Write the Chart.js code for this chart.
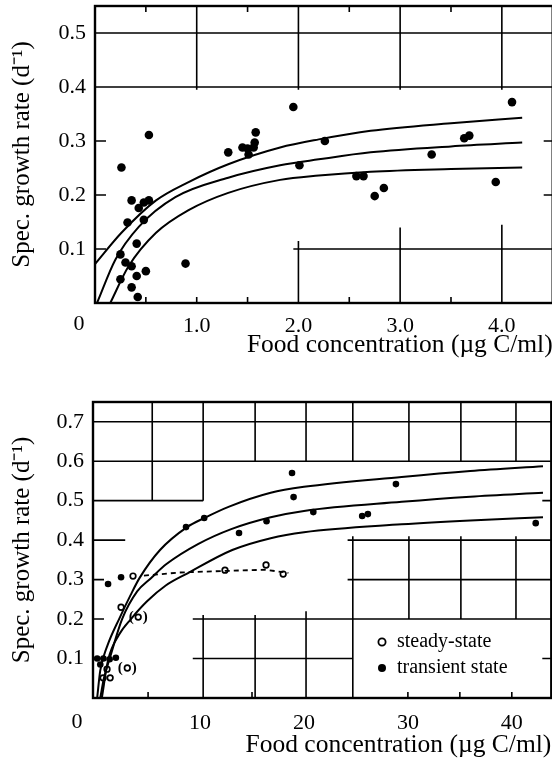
<!DOCTYPE html>
<html>
<head>
<meta charset="utf-8">
<script src="https://cdn.jsdelivr.net/npm/chart.js@4.4.1/dist/chart.umd.min.js"></script>
<style>
  html, body { margin: 0; padding: 0; background: #fff; overflow: hidden; }
  #wrap { position: relative; width: 552px; height: 764px; overflow: hidden; }
  #topChart { position: absolute; left: 0; top: 0; }
  #botChart { position: absolute; left: 0; top: 375px; }
</style>
</head>
<body>
<div id="wrap">
  <canvas id="topChart" width="557" height="375"></canvas>
  <canvas id="botChart" width="557" height="389"></canvas>
</div>
<script>
// ---- upper panel: food (ug C/ml) vs specific growth rate (1/d)
const topFood = [0.26, 0.53, 0.36, 0.43, 0.48, 0.53, 0.32, 0.48, 0.41, 0.25, 0.30, 0.36, 0.41, 0.50, 0.25, 0.36, 0.42, 0.89,
  1.31, 1.45, 1.50, 1.51, 1.56, 1.58, 1.57, 1.95, 2.26, 2.01, 2.57, 2.64, 2.84, 2.75, 3.31, 3.63, 3.68, 4.10, 3.94];
const topRate = [0.251, 0.311, 0.190, 0.176, 0.186, 0.190, 0.149, 0.154, 0.110, 0.090, 0.075, 0.068, 0.050, 0.059, 0.044, 0.029, 0.011, 0.073,
  0.279, 0.288, 0.286, 0.275, 0.288, 0.316, 0.297, 0.363, 0.300, 0.255, 0.235, 0.235, 0.213, 0.198, 0.275, 0.305, 0.310, 0.372, 0.224];

const topUpperX = [0, 0.26, 0.6, 0.92, 1.31, 1.82, 2.2, 2.71, 3.5, 4.2];
const topUpperY = [0.072, 0.13, 0.19, 0.224, 0.257, 0.288, 0.303, 0.319, 0.333, 0.343];
const topMidX = [0.02, 0.2, 0.43, 0.79, 1.31, 1.82, 2.2, 2.71, 3.5, 4.2];
const topMidY = [0, 0.08, 0.141, 0.196, 0.232, 0.255, 0.266, 0.279, 0.29, 0.297];
const topLowX = [0.15, 0.33, 0.6, 0.92, 1.31, 1.82, 2.2, 2.71, 3.5, 4.2];
const topLowY = [0, 0.068, 0.13, 0.172, 0.204, 0.228, 0.236, 0.243, 0.248, 0.251];

// ---- lower panel
const botTransX = [8.65, 10.4, 13.75, 16.4, 18.85, 19.0, 20.9, 25.6, 26.15, 28.85, 42.3, 1.15, 2.4, 0.1, 0.4, 0.7, 1.3, 1.9];
const botTransY = [0.433, 0.456, 0.418, 0.448, 0.570, 0.509, 0.471, 0.461, 0.466, 0.542, 0.443, 0.289, 0.306, 0.100, 0.085, 0.100, 0.098, 0.102];
const botSteadyX = [3.55, 2.4, 1.05, 0.67, 1.35, 12.4, 16.35, 18.0];
const botSteadyY = [0.309, 0.230, 0.073, 0.051, 0.051, 0.324, 0.337, 0.314];
const botBracketX = [4.05, 3.0];
const botBracketY = [0.205, 0.076];
const botDashX = [4.6, 8, 12.4, 16.3, 18.5];
const botDashY = [0.31, 0.318, 0.322, 0.325, 0.317];

const botUpperX = [0.1, 0.4, 1.05, 2.3, 3.3, 4.2, 6.15, 8.75, 10.4, 12.8, 16.8, 20, 29.4, 36, 43];
const botUpperY = [0, 0.07, 0.13, 0.205, 0.26, 0.305, 0.375, 0.433, 0.456, 0.485, 0.52, 0.535, 0.56, 0.575, 0.587];
const botMidX = [0.4, 0.75, 1.35, 2.5, 3.95, 5.25, 6.8, 9.8, 13, 16.8, 20, 29.4, 36, 43];
const botMidY = [0, 0.05, 0.104, 0.2, 0.27, 0.303, 0.34, 0.39, 0.428, 0.458, 0.474, 0.497, 0.51, 0.52];
const botLowX = [0.55, 1.15, 2.2, 3.35, 4.9, 6.7, 8.8, 13.1, 16.8, 20, 29.4, 36, 43];
const botLowY = [0, 0.096, 0.16, 0.2, 0.245, 0.285, 0.316, 0.375, 0.405, 0.42, 0.44, 0.45, 0.458];

const serif = "'Liberation Serif', 'Times New Roman', serif";
const pts = (xs, ys) => xs.map((x, i) => ({ x: x, y: ys[i] }));
const curve = (xs, ys) => ({
  data: pts(xs, ys), showLine: true, pointRadius: 0, borderColor: '#000',
  borderWidth: 2, cubicInterpolationMode: 'monotone', fill: false
});

// graph paper fragments and inward ticks of the scanned figure (data units)
const topPaper = {
  h: [[0.5, 0, 4.5], [0.4, 0, 4.5], [0.1, 1.95, 4.5]],
  v: [[1, 0.395, 0.55], [2, 0.395, 0.55], [3, 0.395, 0.55], [4, 0.395, 0.55],
      [2, 0, 0.115], [3, 0, 0.14], [4, 0, 0.145]],
  ticks: { left: [0.1, 0.2, 0.3], right: [0.1, 0.2, 0.3], top: [0.5, 1.5, 2.5, 3.5], bottom: [0.5, 1, 1.5, 2.5, 3.5] },
  zeroDy: 21
};
const botPaper = {
  h: [[0.7, -0.3, 44], [0.6, -0.3, 44], [0.5, -0.3, 10.3], [0.4, -0.3, 2.8],
      [0.4, 24.2, 44], [0.3, 24.2, 44], [0.2, 9.3, 44], [0.1, 9.3, 24.7]],
  v: [[5.4, 0.5, 0.75], [10.3, 0.5, 0.75], [15.3, 0.6, 0.75], [20.2, 0.6, 0.75], [24.7, 0.6, 0.75],
      [30.1, 0.6, 0.75], [35.1, 0.6, 0.75], [40.4, 0.6, 0.75],
      [10.3, 0, 0.21], [15.3, 0, 0.21], [20.2, 0, 0.22], [24.7, 0, 0.41],
      [30.1, 0.2, 0.41], [35.1, 0.2, 0.41], [40.4, 0.2, 0.41]],
  ticks: { left: [0.1, 0.2, 0.3], right: [0.1, 0.2, 0.3, 0.4, 0.5], top: [], bottom: [5, 15, 30, 35, 40] },
  zeroDy: 24
};

const paperPlugin = {
  id: 'paper',
  beforeDatasetsDraw(chart, args, opts) {
    const { ctx, chartArea: a, scales: { x, y } } = chart;
    ctx.save();
    ctx.strokeStyle = '#000';
    ctx.lineWidth = 1.6;
    ctx.beginPath();
    opts.h.forEach(([v, x0, x1]) => {
      const py = y.getPixelForValue(v);
      ctx.moveTo(Math.max(a.left, x.getPixelForValue(x0)), py);
      ctx.lineTo(Math.min(a.right, x.getPixelForValue(x1)), py);
    });
    opts.v.forEach(([v, y0, y1]) => {
      const px = x.getPixelForValue(v);
      ctx.moveTo(px, Math.min(a.bottom, y.getPixelForValue(y0)));
      ctx.lineTo(px, Math.max(a.top, y.getPixelForValue(y1)));
    });
    const t = opts.ticks;
    t.left.forEach(v => { const py = y.getPixelForValue(v); ctx.moveTo(a.left, py); ctx.lineTo(a.left + 11, py); });
    t.right.forEach(v => { const py = y.getPixelForValue(v); ctx.moveTo(a.right, py); ctx.lineTo(a.right - 9, py); });
    t.top.forEach(v => { const px = x.getPixelForValue(v); ctx.moveTo(px, a.top); ctx.lineTo(px, a.top + 6); });
    t.bottom.forEach(v => { const px = x.getPixelForValue(v); ctx.moveTo(px, a.bottom); ctx.lineTo(px, a.bottom - 6); });
    ctx.stroke();
    ctx.lineWidth = 2.4;
    ctx.strokeRect(a.left, a.top, a.width, a.height);
    ctx.fillStyle = '#000';
    ctx.font = '22px ' + serif;
    ctx.textAlign = 'center';
    ctx.textBaseline = 'middle';
    ctx.fillText('0', a.left - 16, a.bottom + opts.zeroDy);
    ctx.restore();
  }
};

const bracketPlugin = {
  id: 'brackets',
  afterDatasetsDraw(chart) {
    const { ctx } = chart;
    chart.data.datasets.forEach((ds, i) => {
      if (!ds.bracketed) return;
      ctx.save();
      ctx.fillStyle = '#000';
      ctx.font = 'bold 15px ' + serif;
      ctx.textAlign = 'center';
      ctx.textBaseline = 'middle';
      chart.getDatasetMeta(i).data.forEach(p => {
        ctx.fillText('(', p.x - 7, p.y);
        ctx.fillText(')', p.x + 7, p.y);
      });
      ctx.restore();
    });
  }
};

const legendPlugin = {
  id: 'boxLegend',
  afterDraw(chart) {
    const { ctx, chartArea: a } = chart;
    const mx = a.left + 289, y1 = a.top + 240, y2 = a.top + 266;
    ctx.save();
    ctx.lineWidth = 1.8;
    ctx.strokeStyle = '#000';
    ctx.fillStyle = '#fff';
    ctx.beginPath(); ctx.arc(mx, y1, 3.6, 0, Math.PI * 2); ctx.fill(); ctx.stroke();
    ctx.fillStyle = '#000';
    ctx.beginPath(); ctx.arc(mx, y2, 4, 0, Math.PI * 2); ctx.fill();
    ctx.font = '20px ' + serif;
    ctx.textAlign = 'left';
    ctx.textBaseline = 'middle';
    ctx.fillText('steady-state', mx + 15, y1);
    ctx.fillText('transient state', mx + 15, y2);
    ctx.restore();
  }
};

function makeOptions(cfg) {
  return {
    responsive: false,
    animation: false,
    layout: { padding: { top: cfg.padTop, right: 0, left: 0, bottom: 0 } },
    plugins: { legend: { display: false }, tooltip: { enabled: false }, paper: cfg.paper },
    scales: {
      x: {
        type: 'linear', min: cfg.xMin, max: cfg.xMax,
        afterFit: s => { s.height = cfg.xHeight; s.paddingLeft = 0; s.paddingRight = 0; },
        grid: { display: false, drawTicks: false },
        border: { display: false },
        ticks: {
          stepSize: cfg.xStep, includeBounds: false, autoSkip: false, maxRotation: 0, padding: cfg.xPad,
          color: '#000', font: { family: serif, size: 22 },
          callback: v => (v > 0 && v <= cfg.xLast) ? cfg.xFmt(v) : ''
        },
        title: {
          display: true, text: 'Food concentration (\u00b5g C/ml)', align: 'end', color: '#000',
          font: { family: serif, size: 25.5 }, padding: { top: 0, bottom: cfg.titlePad }
        }
      },
      y: {
        type: 'linear', min: 0, max: cfg.yMax,
        afterFit: s => { s.width = cfg.yWidth; s.paddingTop = 0; s.paddingBottom = 0; },
        grid: { display: false, drawTicks: false },
        border: { display: false },
        ticks: {
          stepSize: 0.1, includeBounds: false, autoSkip: false, padding: 9, color: '#000',
          font: { family: serif, size: 22 },
          callback: v => (v > 0.05 && v <= cfg.yLast + 1e-6) ? v.toFixed(1) : ''
        },
        title: {
          display: true, text: 'Spec. growth rate (d\u207b\u00b9)', color: '#000',
          font: { family: serif, size: 25 }, padding: { top: 7, bottom: 0 }
        }
      }
    }
  };
}

new Chart(document.getElementById('topChart'), {
  type: 'scatter',
  data: {
    datasets: [
      curve(topUpperX, topUpperY),
      curve(topMidX, topMidY),
      curve(topLowX, topLowY),
      { data: pts(topFood, topRate), pointRadius: 4.3, pointBackgroundColor: '#000', pointBorderColor: '#000', pointBorderWidth: 0 }
    ]
  },
  options: makeOptions({
    padTop: 6, xMin: 0, xMax: 4.5, xStep: 1, xLast: 4, xFmt: v => v.toFixed(1), xHeight: 72, xPad: 10, titlePad: 14,
    yMax: 0.55, yLast: 0.5, yWidth: 95, paper: topPaper
  }),
  plugins: [paperPlugin]
});

new Chart(document.getElementById('botChart'), {
  type: 'scatter',
  data: {
    datasets: [
      curve(botUpperX, botUpperY),
      curve(botMidX, botMidY),
      curve(botLowX, botLowY),
      { data: pts(botDashX, botDashY), showLine: true, pointRadius: 0, borderColor: '#000', borderWidth: 1.8, borderDash: [5, 4] },
      { data: pts(botTransX, botTransY), pointRadius: 3.3, pointBackgroundColor: '#000', pointBorderColor: '#000', pointBorderWidth: 0 },
      { data: pts(botSteadyX, botSteadyY), pointRadius: 2.8, pointBackgroundColor: '#fff', pointBorderColor: '#000', pointBorderWidth: 1.7 },
      { data: pts(botBracketX, botBracketY), bracketed: true, pointRadius: 2.8, pointBackgroundColor: '#fff', pointBorderColor: '#000', pointBorderWidth: 1.7 }
    ]
  },
  options: makeOptions({
    padTop: 27, xMin: -0.3, xMax: 43.8, xStep: 10, xLast: 40, xFmt: v => String(Math.round(v)), xHeight: 66, xPad: 12, titlePad: 3,
    yMax: 0.75, yLast: 0.7, yWidth: 93, paper: botPaper
  }),
  plugins: [paperPlugin, bracketPlugin, legendPlugin]
});
</script>
</body>
</html>
